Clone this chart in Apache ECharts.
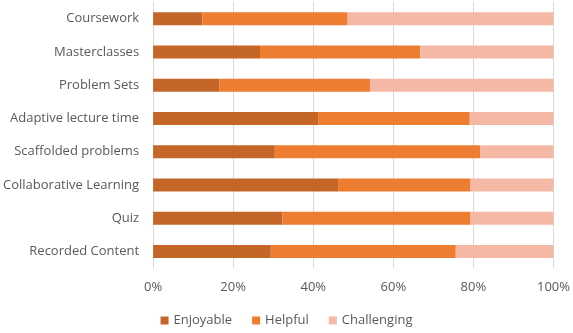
<!DOCTYPE html>
<html>
<head>
<meta charset="utf-8">
<script src="https://cdn.jsdelivr.net/npm/echarts@6/dist/echarts.min.js"></script>
<style>
  html, body { margin: 0; padding: 0; background: #fff; }
  #chart { width: 573px; height: 333px; }
</style>
</head>
<body>
<div id="chart"></div>
<script>
// Activity categories, top to bottom
const categories = [
  'Coursework', 'Masterclasses', 'Problem Sets', 'Adaptive lecture time',
  'Scaffolded problems', 'Collaborative Learning', 'Quiz', 'Recorded Content'
];
// Share of responses per category (percent)
const enjoyable   = [12.3, 26.7, 16.5, 41.2, 30.4, 46.2, 32.3, 29.4];
const helpful     = [36.3, 40.0, 37.7, 37.9, 51.3, 33.1, 47.0, 46.2];
const challenging = [51.4, 33.3, 45.8, 20.9, 18.3, 20.7, 20.7, 24.4];
const xTicks = [0, 20, 40, 60, 80, 100];

const FONT = 'Open Sans';
const TEXT = '#595959';
const GRID = '#D9D9D9';

const chart = echarts.init(document.getElementById('chart'), null, { renderer: 'canvas' });

function bar(name, data, color) {
  return {
    name: name,
    type: 'bar',
    stack: 'total',
    data: data,
    barWidth: 13,
    itemStyle: { color: color },
    emphasis: { disabled: true }
  };
}

chart.setOption({
  animation: false,
  textStyle: { fontFamily: FONT, color: TEXT },
  grid: { left: 152, right: 16, top: 2, bottom: 65, containLabel: false },
  xAxis: {
    type: 'value',
    min: xTicks[0],
    max: xTicks[xTicks.length - 1],
    interval: xTicks[1] - xTicks[0],
    axisLine: { show: false },
    axisTick: { show: false },
    splitLine: { show: true, lineStyle: { color: GRID, width: 1 } },
    axisLabel: {
      formatter: '{value}%',
      color: TEXT, fontFamily: FONT, fontSize: 13, margin: 13
    }
  },
  yAxis: {
    type: 'category',
    inverse: true,
    data: categories,
    axisLine: { show: true, lineStyle: { color: GRID, width: 1 } },
    axisTick: { show: false },
    axisLabel: { color: TEXT, fontFamily: FONT, fontSize: 13, margin: 14 }
  },
  legend: {
    bottom: 1,
    left: 'center',
    itemWidth: 8,
    itemHeight: 8,
    itemGap: 20,
    icon: 'rect',
    textStyle: { color: TEXT, fontFamily: FONT, fontSize: 13 },
    data: ['Enjoyable', 'Helpful', 'Challenging']
  },
  series: [
    bar('Enjoyable', enjoyable, '#C46628'),
    bar('Helpful', helpful, '#ED7D31'),
    bar('Challenging', challenging, '#F4B8A4')
  ]
});
</script>
</body>
</html>
